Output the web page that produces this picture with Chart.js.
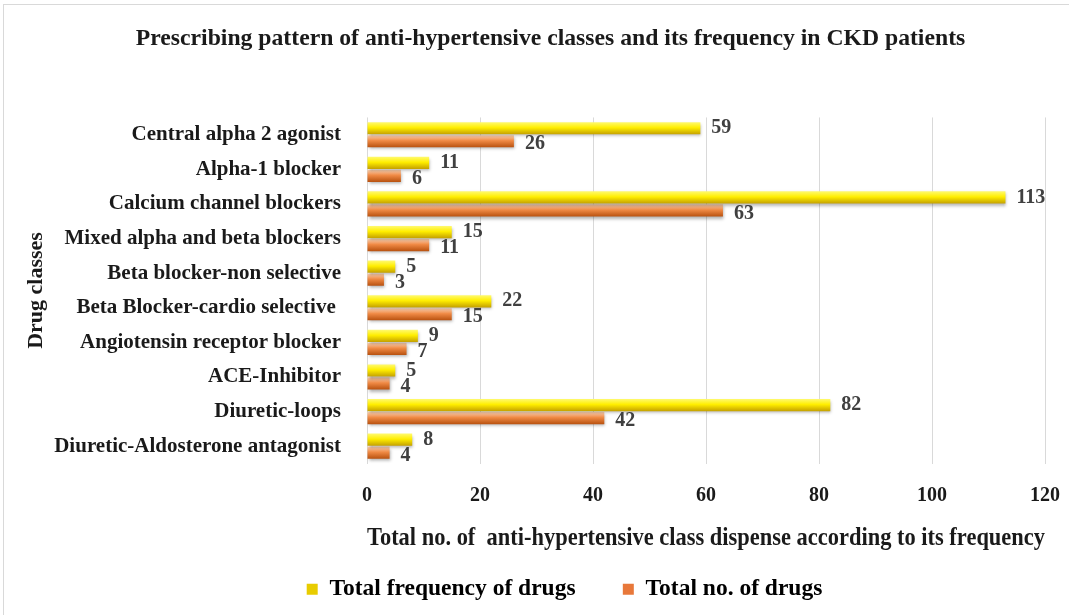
<!DOCTYPE html>
<html>
<head>
<meta charset="utf-8">
<script src="https://cdn.jsdelivr.net/npm/chart.js@4"></script>
<style>
  html, body { margin: 0; padding: 0; background: #fff; }
  #wrap { position: absolute; left: 3px; top: 4px; width: 1070px; height: 615px; border: 1px solid #d9d9d9; box-sizing: border-box; }
  canvas { position: absolute; left: 0; top: 0; }
</style>
</head>
<body>
<div id="wrap"></div>
<canvas id="myChart" width="1069" height="615"></canvas>
<script>
var drugClasses = [
  "Central alpha 2 agonist",
  "Alpha-1 blocker",
  "Calcium channel blockers",
  "Mixed alpha and beta blockers",
  "Beta blocker-non selective",
  "Beta Blocker-cardio selective ",
  "Angiotensin receptor blocker",
  "ACE-Inhibitor",
  "Diuretic-loops",
  "Diuretic-Aldosterone antagonist"
];
var totalFrequency = [59, 11, 113, 15, 5, 22, 9, 5, 82, 8];
var totalDrugs = [26, 6, 63, 11, 3, 15, 7, 4, 42, 4];
var xTicks = [0, 20, 40, 60, 80, 100, 120];

var SERIF = "'Liberation Serif', 'Times New Roman', serif";
var CAT = 0.75, BAR = 0.94;

// vertical gradient inside each bar
function barGradient(stops, dsIndex) {
  return function (ctx) {
    var chart = ctx.chart;
    var y = chart.scales.y;
    if (!chart.chartArea || !y || ctx.dataIndex === undefined) return stops[1];
    var cat = (chart.chartArea.bottom - chart.chartArea.top) / drugClasses.length;
    var size = cat * CAT;
    var center = y.getPixelForValue(ctx.dataIndex) - size / 2 + size / 4 + dsIndex * size / 2;
    var half = size / 4 * BAR;
    var g = chart.ctx.createLinearGradient(0, center - half, 0, center + half);
    g.addColorStop(0, stops[0]);
    g.addColorStop(0.45, stops[1]);
    g.addColorStop(1, stops[2]);
    return g;
  };
}

var valueLabels = {
  id: 'valueLabels',
  afterDatasetsDraw: function (chart) {
    var c = chart.ctx;
    c.save();
    c.font = "bold 20px " + SERIF;
    c.fillStyle = "#404040";
    c.textBaseline = "middle";
    chart.data.datasets.forEach(function (ds, di) {
      chart.getDatasetMeta(di).data.forEach(function (bar, i) {
        var dy = di === 0 ? 0 : 3;
        c.fillText(ds.data[i], bar.x + 11, bar.y + dy);
      });
    });
    c.restore();
  }
};

var barShadow = {
  id: 'barShadow',
  beforeDatasetsDraw: function (chart) {
    var c = chart.ctx;
    c.save();
    c.shadowColor = "rgba(0,0,0,0.3)";
    c.shadowBlur = 3;
    c.shadowOffsetX = 1;
    c.shadowOffsetY = 2;
  },
  afterDatasetsDraw: function (chart) {
    chart.ctx.restore();
  }
};

// legend and title sit a little right of centre in the original
var shiftBoxes = {
  id: 'shiftBoxes',
  afterLayout: function (chart) {
    chart.legend.left += 32;
    chart.legend.right += 32;
    chart.titleBlock.left += 18;
    chart.titleBlock.right += 18;
  }
};

new Chart("myChart", {
  type: "bar",
  data: {
    labels: drugClasses,
    datasets: [{
      label: "Total frequency of drugs",
      data: totalFrequency,
      backgroundColor: barGradient(["#fffa70", "#ffee00", "#c4a000"], 0),
      borderWidth: 0,
      categoryPercentage: CAT,
      barPercentage: BAR
    }, {
      label: "Total no. of drugs",
      data: totalDrugs,
      backgroundColor: barGradient(["#fbd3b4", "#f08a45", "#b8510f"], 1),
      borderWidth: 0,
      categoryPercentage: CAT,
      barPercentage: BAR
    }]
  },
  options: {
    indexAxis: 'y',
    responsive: false,
    animation: false,
    layout: { padding: { left: 20, right: 24, top: 5, bottom: 4 } },
    scales: {
      x: {
        min: 0,
        max: 120,
        afterBuildTicks: function (s) { s.ticks = xTicks.map(function (v) { return { value: v }; }); },
        grid: { color: "#d9d9d9", drawTicks: false },
        border: { display: false },
        ticks: { color: "#1a1a1a", font: { family: SERIF, size: 20, weight: "bold" }, padding: 20 },
        title: {
          display: true,
          text: "Total no. of  anti-hypertensive class dispense according to its frequency",
          color: "#1a1a1a",
          font: { family: SERIF, size: 24.5, weight: "bold" },
          padding: { top: 10, bottom: 12 }
        },
        afterFit: function (s) { s.height = 102; s.paddingLeft = 0; s.paddingRight = 0; }
      },
      y: {
        grid: { display: false },
        border: { display: false },
        afterFit: function (s) { s.width = 347; },
        ticks: { color: "#1a1a1a", font: { family: SERIF, size: 21, weight: "bold" }, padding: 18, autoSkip: false },
        title: {
          display: true,
          text: "Drug classes",
          color: "#1a1a1a",
          font: { family: SERIF, size: 22, weight: "bold" },
          padding: 3
        }
      }
    },
    plugins: {
      title: {
        display: true,
        text: "Prescribing pattern of anti-hypertensive classes and its frequency in CKD patients",
        color: "#1a1a1a",
        font: { family: SERIF, size: 23.7, weight: "bold" },
        padding: { top: 20, bottom: 64 }
      },
      legend: {
        position: "bottom",
        labels: {
          color: "#1a1a1a",
          font: { family: SERIF, size: 23.5, weight: "bold" },
          boxWidth: 11,
          boxHeight: 11,
          padding: 12,
          generateLabels: function (chart) {
            var cols = ["#e8cc00", "#e8783a"];
            return chart.data.datasets.map(function (ds, i) {
              // trailing spaces widen the gap between the two entries
              var txt = i === 0 ? ds.label + "      " : ds.label;
              return { text: txt, fillStyle: cols[i], strokeStyle: cols[i], lineWidth: 0, datasetIndex: i };
            });
          }
        }
      },
      tooltip: { enabled: false }
    }
  },
  plugins: [barShadow, valueLabels, shiftBoxes]
});
</script>
</body>
</html>
